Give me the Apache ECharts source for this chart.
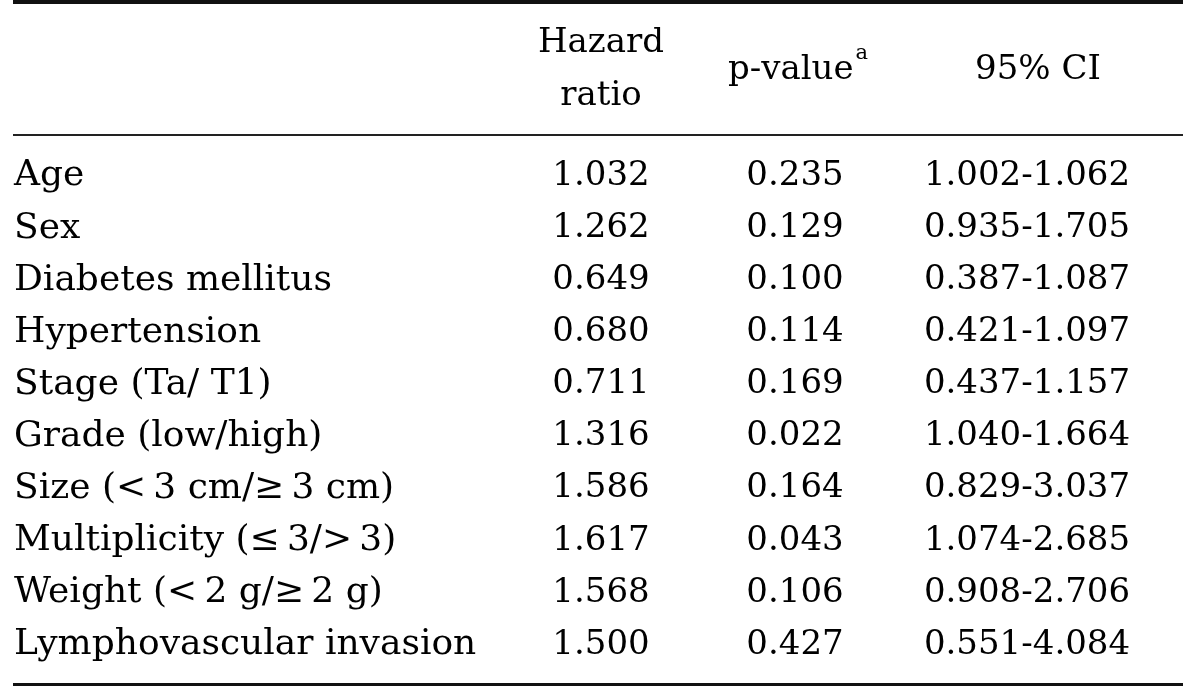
<!DOCTYPE html>
<html>
<head>
<meta charset="utf-8">
<script src="https://cdn.jsdelivr.net/npm/echarts@6/dist/echarts.min.js"></script>
<style>
html,body{margin:0;padding:0;background:#fff;}
#chart{width:1200px;height:690px;}
</style>
</head>
<body>
<div id="chart"></div>
<script>
// ---- data ----
const rowLabels = [
  'Age', 'Sex', 'Diabetes mellitus', 'Hypertension', 'Stage (Ta/ T1)',
  'Grade (low/high)', 'Size (<\u20093 cm/\u2265\u20093 cm)', 'Multiplicity (\u2264\u20093/>\u20093)',
  'Weight (<\u20092 g/\u2265\u20092 g)', 'Lymphovascular invasion'
];
const hazardRatio = [1.032, 1.262, 0.649, 0.680, 0.711, 1.316, 1.586, 1.617, 1.568, 1.500];
const pValue      = [0.235, 0.129, 0.100, 0.114, 0.169, 0.022, 0.164, 0.043, 0.106, 0.427];
const ciLower     = [1.002, 0.935, 0.387, 0.421, 0.437, 1.040, 0.829, 1.074, 0.908, 0.551];
const ciUpper     = [1.062, 1.705, 1.087, 1.097, 1.157, 1.664, 3.037, 2.685, 2.706, 4.084];
const headers = ['Hazard\nratio', 'p-value{sup|a}', '95% CI'];

// ---- layout ----
const FONT = 'DejaVu Serif';
const FS = 34;
const colCenters = [601, 795, 1027];
const headerPad = [[0, 0, 0, 0], [0, 0, 0, 6], [0, 0, 0, 22]];
const colWidth = 200;
const gridTop = 150, gridHeight = 521;
const headerY = 70;
const INK = '#000';

const grids = [{ left: 14, top: gridTop, width: 1, height: gridHeight }];
const xAxes = [{ gridIndex: 0, type: 'category', data: [''], show: false }];
const yAxes = [{
  gridIndex: 0, type: 'category', data: rowLabels, inverse: true,
  axisLine: { show: false }, axisTick: { show: false }, splitLine: { show: false },
  axisLabel: { margin: 0, align: 'left', fontFamily: FONT, fontSize: 36, color: INK }
}];
const series = [];

const cellText = [
  i => hazardRatio[i].toFixed(3),
  i => pValue[i].toFixed(3),
  i => ciLower[i].toFixed(3) + '-' + ciUpper[i].toFixed(3)
];

headers.forEach((h, c) => {
  const g = c + 1;
  grids.push({ left: colCenters[c] - colWidth / 2, width: colWidth, top: gridTop, height: gridHeight });
  xAxes.push({
    gridIndex: g, type: 'category', data: [h], position: 'top',
    axisLine: { show: false }, axisTick: { show: false }, splitLine: { show: false },
    axisLabel: {
      margin: gridTop - headerY, verticalAlign: 'middle', align: 'center',
      fontFamily: FONT, fontSize: FS, color: INK, lineHeight: 53, padding: headerPad[c],
      rich: { sup: { fontFamily: FONT, fontSize: 21, color: INK, verticalAlign: 'top', lineHeight: 40, padding: [0, 0, 18, 2] } }
    }
  });
  yAxes.push({ gridIndex: g, type: 'category', data: rowLabels, inverse: true, show: false });
  series.push({
    type: 'scatter', xAxisIndex: g, yAxisIndex: g, symbolSize: 0, silent: true,
    itemStyle: { color: INK },
    data: rowLabels.map((r, i) => [h, r, i]),
    label: {
      show: true, position: 'inside', fontFamily: FONT, fontSize: FS, color: INK,
      textBorderWidth: 0, textBorderColor: 'transparent', opacity: 1,
      formatter: p => cellText[c](p.value[2])
    }
  });
});

const chart = echarts.init(document.getElementById('chart'), null, { renderer: 'canvas' });
chart.setOption({
  animation: false,
  backgroundColor: '#fff',
  grid: grids, xAxis: xAxes, yAxis: yAxes, series: series,
  graphic: [
    { type: 'rect', shape: { x: 13, y: 0, width: 1170, height: 4 }, style: { fill: '#111' } },
    { type: 'rect', shape: { x: 13, y: 134, width: 1170, height: 2 }, style: { fill: '#222' } },
    { type: 'rect', shape: { x: 13, y: 683, width: 1170, height: 3 }, style: { fill: '#111' } }
  ]
});
</script>
</body>
</html>
